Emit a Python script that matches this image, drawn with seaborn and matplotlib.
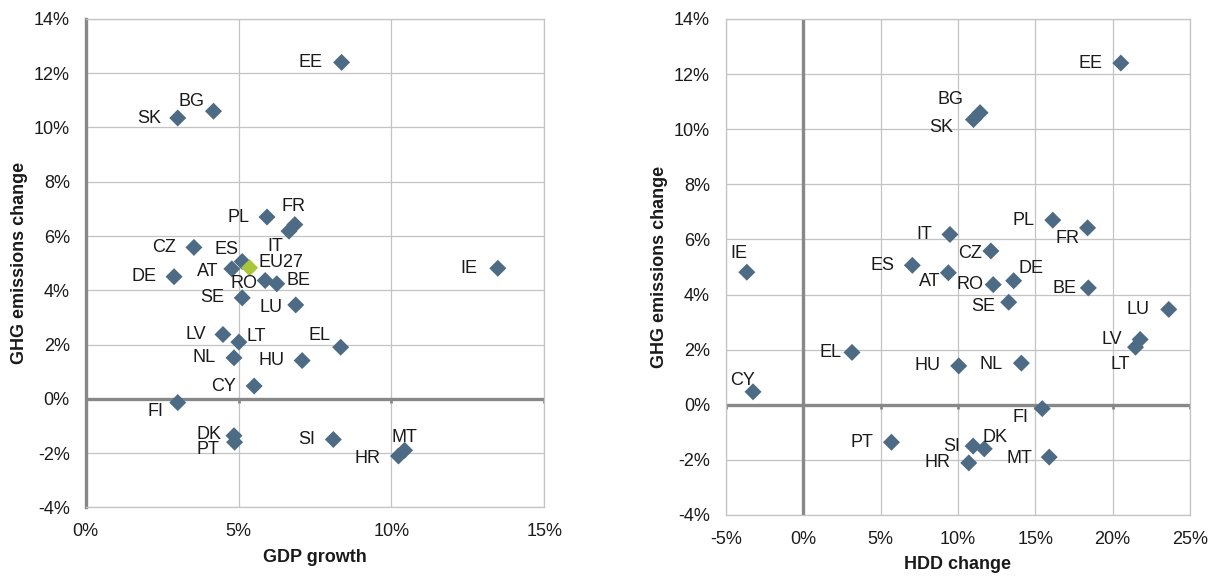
import matplotlib
matplotlib.use("Agg")
import matplotlib.pyplot as plt
import matplotlib.ticker as mticker
import pandas as pd
import seaborn as sns

# ── Data (values in %) ───────────────────────────────────────────────────────
countries = ["EE", "BG", "SK", "PL", "FR", "IT", "CZ", "ES", "AT", "IE",
             "DE", "RO", "BE", "SE", "LU", "LV", "LT", "EL", "NL", "HU",
             "CY", "FI", "DK", "PT", "SI", "MT", "HR"]
ghg_change = [12.40, 10.60, 10.35, 6.70, 6.42, 6.18, 5.58, 5.06, 4.79, 4.81,
              4.50, 4.36, 4.24, 3.72, 3.46, 2.37, 2.09, 1.90, 1.51, 1.41,
              0.47, -0.14, -1.60, -1.36, -1.50, -1.90, -2.11]
gdp_growth = [8.37, 4.18, 3.01, 5.93, 6.84, 6.65, 3.54, 5.12, 4.78, 13.48,
              2.89, 5.87, 6.25, 5.12, 6.87, 4.49, 5.01, 8.34, 4.85, 7.08,
              5.51, 3.01, 4.87, 4.85, 8.10, 10.43, 10.23]
hdd_change = [20.53, 11.43, 11.00, 16.13, 18.38, 9.48, 12.13, 7.05, 9.38, -3.65,
              13.60, 12.28, 18.43, 13.28, 23.63, 21.78, 21.48, 3.15, 14.10, 10.05,
              -3.25, 15.45, 11.70, 5.70, 10.98, 15.90, 10.70]

eu_label = "EU27"
eu_gdp = 5.36
eu_ghg = 4.83

# ── Style ─────────────────────────────────────────────────────────────────────
MARKER_COLOR = "#4E6B85"
EU_COLOR = "#A8C63A"
AXIS_COLOR = "#888888"
GRID_COLOR = "#C3C3C3"
TEXT_COLOR = "#1A1A1A"
FS = 13

# label placement: (ha, dx, dy) in pixels relative to the marker
LEFT_LABELS = {
    "EE": ("right", -19, 0), "BG": ("right", -9, 10), "SK": ("right", -17, 0),
    "PL": ("right", -18, 0), "FR": ("center", -1, 18), "IT": ("center", -14, -15),
    "CZ": ("right", -18, 0), "ES": ("right", -4, 12), "AT": ("right", -13, -3),
    "IE": ("right", -20, 0), "DE": ("right", -18, 0), "RO": ("right", -8, -3),
    "BE": ("left", 10, 3), "SE": ("right", -18, 0), "LU": ("right", -13, -3),
    "LV": ("right", -17, 0), "LT": ("left", 8, 6), "EL": ("right", -10, 12),
    "NL": ("right", -18, 0), "HU": ("right", -18, 0), "CY": ("right", -18, 0),
    "FI": ("center", -22, -9), "DK": ("right", -13, 8), "PT": ("right", -15, -14),
    "SI": ("right", -18, 0), "MT": ("center", 0, 13), "HR": ("right", -18, -2),
}
RIGHT_LABELS = {
    "EE": ("right", -18, 0), "BG": ("right", -17, 13), "SK": ("right", -20, -8),
    "PL": ("right", -18, 0), "FR": ("right", -8, -11), "IT": ("right", -18, 0),
    "CZ": ("right", -9, -3), "ES": ("right", -18, 0), "AT": ("right", -8, -9),
    "IE": ("center", -8, 19), "DE": ("left", 5, 12), "RO": ("right", -10, 0),
    "BE": ("right", -12, -1), "SE": ("right", -13, -4), "LU": ("right", -19, 0),
    "LV": ("right", -18, 0), "LT": ("center", -15, -17), "EL": ("right", -11, 0),
    "NL": ("right", -19, -1), "HU": ("right", -18, 0), "CY": ("center", -10, 11),
    "FI": ("center", -22, -9), "DK": ("left", -2, 11), "PT": ("right", -18, 0),
    "SI": ("right", -13, 0), "MT": ("right", -17, -1), "HR": ("right", -18, 0),
}

sns.set_style("white")
plt.rcParams["font.family"] = ["Liberation Sans", "DejaVu Sans"]

df = pd.DataFrame({"country": countries, "ghg": ghg_change,
                   "gdp": gdp_growth, "hdd": hdd_change})

fig = plt.figure(figsize=(12.16, 5.77), dpi=100)
ax1 = fig.add_axes([0.0705, 0.1208, 0.3771, 0.8463])
ax2 = fig.add_axes([0.5970, 0.1075, 0.3816, 0.8596])


def _style(ax, xlim, xstep, thick_left):
    ax.set_xlim(*xlim)
    ax.set_ylim(-4, 14)
    ax.xaxis.set_major_locator(mticker.MultipleLocator(xstep))
    ax.yaxis.set_major_locator(mticker.MultipleLocator(2))
    ax.xaxis.set_major_formatter(mticker.FuncFormatter(lambda v, p: f"{v:.0f}%"))
    ax.yaxis.set_major_formatter(mticker.FuncFormatter(lambda v, p: f"{v:.0f}%"))
    ax.grid(True, color=GRID_COLOR, linewidth=0.9, zorder=0)
    ax.set_axisbelow(True)
    for s in ax.spines.values():
        s.set_color(GRID_COLOR)
        s.set_linewidth(0.9)
    if thick_left:
        ax.spines["left"].set_color(AXIS_COLOR)
        ax.spines["left"].set_linewidth(2.4)
    else:
        ax.axvline(0, color=AXIS_COLOR, linewidth=2.4, zorder=1)
    ax.axhline(0, color=AXIS_COLOR, linewidth=2.4, zorder=1)
    # small tick marks below the zero line
    ax.vlines(ax.get_xticks(), -0.15, 0, color=AXIS_COLOR, linewidth=2.0, zorder=1)
    ax.tick_params(length=0, labelsize=FS, labelcolor=TEXT_COLOR)
    ax.tick_params(axis="y", pad=11.5)
    ax.tick_params(axis="x", pad=11.5)


def _labels(ax, xcol, placement):
    for _, row in df.iterrows():
        ha, dx, dy = placement[row["country"]]
        ax.annotate(row["country"], (row[xcol], row["ghg"]), xytext=(dx, dy),
                    textcoords="offset pixels", ha=ha, va="center",
                    fontsize=FS, color=TEXT_COLOR, zorder=4)


# ── Left: GDP growth ─────────────────────────────────────────────────────────
sns.scatterplot(data=df, x="gdp", y="ghg", ax=ax1, marker="D", s=75,
                color=MARKER_COLOR, edgecolor="none", zorder=3)
sns.scatterplot(x=[eu_gdp], y=[eu_ghg], ax=ax1, marker="D", s=75,
                color=EU_COLOR, edgecolor="none", zorder=3)
_style(ax1, (0, 15), 5, thick_left=True)
_labels(ax1, "gdp", LEFT_LABELS)
ax1.annotate(eu_label, (eu_gdp, eu_ghg), xytext=(9, 5), textcoords="offset pixels",
             ha="left", va="center", fontsize=FS, color=TEXT_COLOR, zorder=4)
ax1.set_xlabel("GDP growth", fontsize=FS, fontweight="bold", color=TEXT_COLOR, labelpad=6)
ax1.set_ylabel("GHG emissions change", fontsize=FS, fontweight="bold",
               color=TEXT_COLOR, labelpad=4)

# ── Right: HDD change ────────────────────────────────────────────────────────
sns.scatterplot(data=df, x="hdd", y="ghg", ax=ax2, marker="D", s=75,
                color=MARKER_COLOR, edgecolor="none", zorder=3)
_style(ax2, (-5, 25), 5, thick_left=False)
_labels(ax2, "hdd", RIGHT_LABELS)
ax2.set_xlabel("HDD change", fontsize=FS, fontweight="bold", color=TEXT_COLOR, labelpad=6)
ax2.set_ylabel("GHG emissions change", fontsize=FS, fontweight="bold",
               color=TEXT_COLOR, labelpad=4)

fig.savefig("out.png", dpi=100)
